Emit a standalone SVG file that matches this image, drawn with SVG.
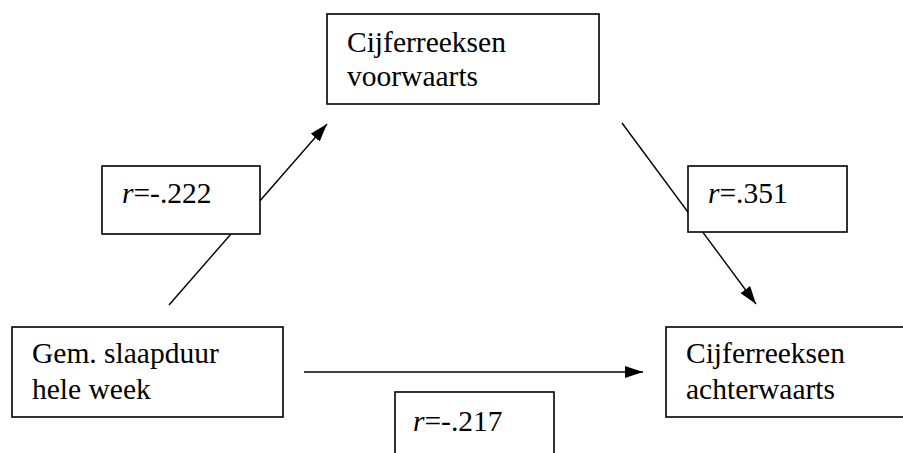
<svg xmlns="http://www.w3.org/2000/svg" width="903" height="453" viewBox="0 0 903 453">
<style>
.box{fill:#fff;stroke:#000;stroke-width:1.6}
.t{font-family:'Liberation Serif','Times New Roman','DejaVu Serif',serif;font-size:29.5px;fill:#000}
.i{font-style:italic}
.c{stroke:#000;stroke-width:1.4;fill:none;marker-end:url(#ah)}
</style>
<defs>
<marker id="ah" viewBox="0 0 18 12" refX="18" refY="6" markerWidth="18" markerHeight="12" markerUnits="userSpaceOnUse" orient="auto">
<path d="M0,0 L18,6 L0,12 Z" fill="#000"/>
</marker>
</defs>
<g id="connectors">
<line class="c" x1="169" y1="305" x2="327" y2="124"/>
<line class="c" x1="622" y1="123" x2="756" y2="304"/>
<line class="c" x1="304" y1="372" x2="643" y2="372"/>
</g>
<g id="node-voorwaarts">
<rect class="box" x="327" y="14" width="272" height="90"/>
<text class="t" font-family="Liberation Serif, serif" x="347" y="52">Cijferreeksen</text>
<text class="t" font-family="Liberation Serif, serif" x="347" y="86">voorwaarts</text>
</g>
<g id="node-slaapduur">
<rect class="box" x="12" y="327" width="271" height="90"/>
<text class="t" x="32" y="363">Gem. slaapduur</text>
<text class="t" x="32" y="399">hele week</text>
</g>
<g id="node-achterwaarts">
<rect class="box" x="666" y="327" width="250" height="90"/>
<text class="t" x="686" y="363">Cijferreeksen</text>
<text class="t" x="686" y="399">achterwaarts</text>
</g>
<g id="label-222">
<rect class="box" x="102" y="166" width="158" height="68"/>
<text class="t" x="122" y="203"><tspan class="i">r</tspan>=-.222</text>
</g>
<g id="label-351">
<rect class="box" x="688" y="166" width="159" height="66"/>
<text class="t" x="708" y="203"><tspan class="i">r</tspan>=.351</text>
</g>
<g id="label-217">
<rect class="box" x="395" y="392" width="159" height="70"/>
<text class="t" x="413" y="431"><tspan class="i">r</tspan>=-.217</text>
</g>
</svg>
